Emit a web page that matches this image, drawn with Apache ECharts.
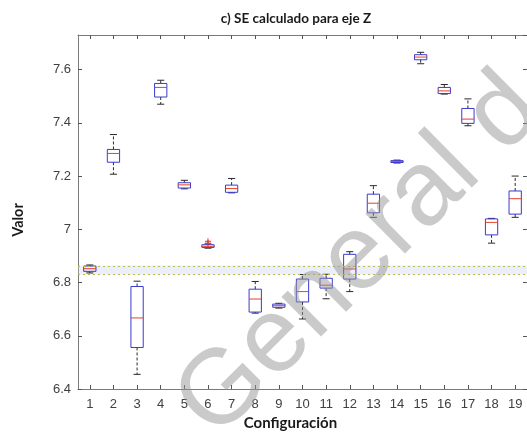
<!DOCTYPE html>
<html><head><meta charset="utf-8">
<script src="https://cdn.jsdelivr.net/npm/echarts@6/dist/echarts.min.js"></script>
<style>html,body{margin:0;padding:0;background:#fff}#c{width:527px;height:436px}</style>
</head><body><div id="c"></div>
<script>
const categories = ['1','2','3','4','5','6','7','8','9','10','11','12','13','14','15','16','17','18','19'];
const whiskerLow  = [6.836, 7.207, 6.455, 7.470, 7.152, 6.929, 7.137, 6.685, 6.704, 6.663, 6.739, 6.766, 7.045, 7.249, 7.622, 7.508, 7.389, 6.948, 7.045];
const quartile1   = [6.842, 7.252, 6.556, 7.497, 7.155, 6.932, 7.139, 6.689, 6.707, 6.727, 6.779, 6.813, 7.062, 7.251, 7.637, 7.510, 7.398, 6.979, 7.057];
const medians     = [6.852, 7.285, 6.667, 7.533, 7.167, 6.936, 7.153, 6.738, 6.713, 6.766, 6.790, 6.851, 7.098, 7.255, 7.647, 7.520, 7.414, 7.026, 7.115];
const quartile3   = [6.862, 7.300, 6.785, 7.548, 7.175, 6.942, 7.166, 6.775, 6.719, 6.813, 6.816, 6.906, 7.132, 7.258, 7.656, 7.533, 7.454, 7.039, 7.144];
const whiskerHigh = [6.866, 7.356, 6.805, 7.560, 7.184, 6.945, 7.191, 6.804, 6.722, 6.830, 6.831, 6.916, 7.164, 7.260, 7.665, 7.544, 7.490, 7.041, 7.200];
const outlierCategory = ['6', '6'];
const outlierValue    = [6.955, 6.948];
const bandLow = 6.83;
const bandHigh = 6.864;
const yMin = 6.4, yMax = 7.73, yStep = 0.2;

const boxData = categories.map((c, i) => [i, whiskerLow[i], quartile1[i], medians[i], quartile3[i], whiskerHigh[i]]);
const outlierData = outlierCategory.map((c, i) => [categories.indexOf(c), outlierValue[i]]);

const chart = echarts.init(document.getElementById('c'), null, {renderer: 'canvas'});
const axisColor = '#7a7a7a';
const labelFont = 'Liberation Sans, Arial, sans-serif';
const boldFont = 'Lato, Open Sans, sans-serif';

function renderBox(params, api) {
  const i = api.value(0);
  const pLo = api.coord([i, api.value(1)]);
  const pQ1 = api.coord([i, api.value(2)]);
  const pMed = api.coord([i, api.value(3)]);
  const pQ3 = api.coord([i, api.value(4)]);
  const pHi = api.coord([i, api.value(5)]);
  const band = api.size([1, 0])[0];
  const bw = band * 0.52, cw = band * 0.3;
  const x = pMed[0];
  const wStyle = {stroke: '#2a2a2a', lineWidth: 1, lineDash: [3, 2]};
  const cStyle = {stroke: '#2a2a2a', lineWidth: 1};
  return {type: 'group', children: [
    {type: 'line', shape: {x1: x, y1: pQ3[1], x2: x, y2: pHi[1]}, style: wStyle},
    {type: 'line', shape: {x1: x, y1: pQ1[1], x2: x, y2: pLo[1]}, style: wStyle},
    {type: 'line', shape: {x1: x - cw/2, y1: pHi[1], x2: x + cw/2, y2: pHi[1]}, style: cStyle},
    {type: 'line', shape: {x1: x - cw/2, y1: pLo[1], x2: x + cw/2, y2: pLo[1]}, style: cStyle},
    {type: 'rect', shape: {x: x - bw/2, y: pQ3[1], width: bw, height: Math.max(pQ1[1] - pQ3[1], 1)}, style: {fill: 'rgba(0,0,0,0)', stroke: '#3a3ad0', lineWidth: 1}},
    {type: 'line', shape: {x1: x - bw/2, y1: pMed[1], x2: x + bw/2, y2: pMed[1]}, style: {stroke: '#e8402a', lineWidth: 1}}
  ]};
}

function renderOutlier(params, api) {
  const p = api.coord([api.value(0), api.value(1)]);
  const s = 3;
  return {type: 'group', children: [
    {type: 'line', shape: {x1: p[0]-s, y1: p[1], x2: p[0]+s, y2: p[1]}, style: {stroke: '#e8302a', lineWidth: 1}},
    {type: 'line', shape: {x1: p[0], y1: p[1]-s, x2: p[0], y2: p[1]+s}, style: {stroke: '#e8302a', lineWidth: 1}}
  ]};
}

const xBase = {
  type: 'category', data: categories, boundaryGap: true,
  axisLine: {show: true, lineStyle: {color: axisColor, width: 1}},
  axisTick: {show: true, inside: true, alignWithLabel: true, length: 4, lineStyle: {color: '#555'}},
  splitLine: {show: false}
};
const yBase = {
  type: 'value', min: yMin, max: yMax, interval: yStep,
  axisLine: {show: true, lineStyle: {color: axisColor, width: 1}},
  axisTick: {show: true, inside: true, length: 4, lineStyle: {color: '#555'}},
  splitLine: {show: false}
};

chart.setOption({
  animation: false,
  backgroundColor: '#ffffff',
  title: {
    text: 'c) SE calculado para eje Z', left: 291, top: 7, textAlign: 'center',
    textStyle: {fontFamily: boldFont, fontWeight: 'bold', fontSize: 13.5, color: '#1a1a1a'}
  },
  grid: {left: 78, right: -2, top: 35, bottom: 47},
  xAxis: [
    Object.assign({}, xBase, {
      position: 'bottom',
      axisLabel: {show: true, interval: 0, margin: 9, fontSize: 13, color: '#404040', fontFamily: labelFont},
      name: 'Configuración', nameLocation: 'middle', nameGap: 27,
      nameTextStyle: {fontFamily: boldFont, fontWeight: 'bold', fontSize: 15, color: '#1a1a1a', padding: [0, 24, 0, 0]}
    }),
    Object.assign({}, xBase, {position: 'top', axisLabel: {show: false}})
  ],
  yAxis: [
    Object.assign({}, yBase, {
      position: 'left',
      axisLabel: {show: true, margin: 7, fontSize: 13, color: '#404040', fontFamily: labelFont, showMaxLabel: false,
        formatter: v => { const r = Math.round(v * 10) / 10; return Math.abs(r - v) < 1e-6 ? String(r) : ''; }},
      name: 'Valor', nameLocation: 'middle', nameGap: 52,
      nameTextStyle: {fontFamily: boldFont, fontWeight: 'bold', fontSize: 14.5, color: '#1a1a1a', padding: [0, 16, 0, 0]}
    }),
    Object.assign({}, yBase, {position: 'right', axisLabel: {show: false}})
  ],
  series: [
    {
      type: 'line', data: [], xAxisIndex: 0, yAxisIndex: 0, silent: true,
      markArea: {silent: true, itemStyle: {color: 'rgba(200,205,240,0.35)'}, data: [[{yAxis: bandLow}, {yAxis: bandHigh}]]},
      markLine: {silent: true, symbol: ['none', 'none'], label: {show: false},
        lineStyle: {color: '#b8c048', type: [2, 3], width: 1},
        data: [{yAxis: bandLow}, {yAxis: bandHigh}]}
    },
    {type: 'custom', renderItem: renderBox, data: boxData, xAxisIndex: 0, yAxisIndex: 0, encode: {x: 0, y: [1, 2, 3, 4, 5]}, clip: false},
    {type: 'custom', renderItem: renderOutlier, data: outlierData, xAxisIndex: 0, yAxisIndex: 0, encode: {x: 0, y: 1}}
  ],
  graphic: [{
    type: 'text', x: 232, y: 458, rotation: 0.78, silent: true, z: 100,
    style: {text: 'General d', font: '106px Liberation Sans, Arial, sans-serif', fill: 'rgba(150,150,150,0.5)', textVerticalAlign: 'bottom'}
  }]
});
</script></body></html>
